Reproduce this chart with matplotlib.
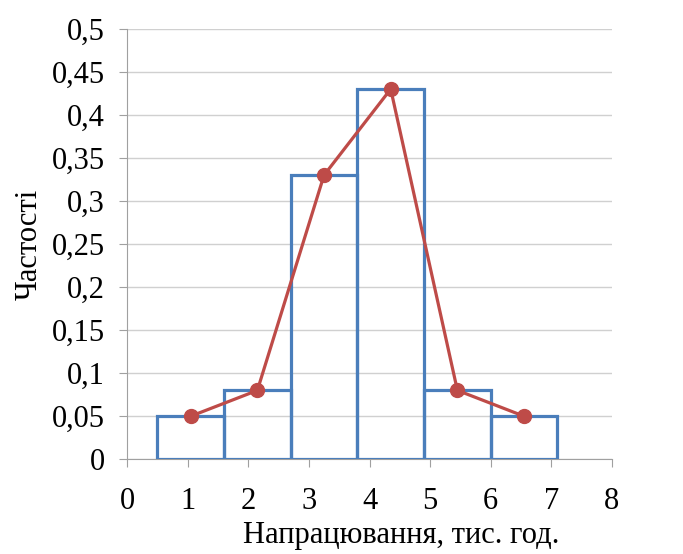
import matplotlib.pyplot as plt

# Histogram bins (thousand hours) and relative frequencies
bin_edges = [0.5, 1.6, 2.7, 3.8, 4.9, 6.0, 7.1]
frequencies = [0.05, 0.08, 0.33, 0.43, 0.08, 0.05]
x_ticks = [0, 1, 2, 3, 4, 5, 6, 7, 8]
y_ticks = [0, 0.05, 0.1, 0.15, 0.2, 0.25, 0.3, 0.35, 0.4, 0.45, 0.5]
y_labels = ['0', '0,05', '0,1', '0,15', '0,2', '0,25', '0,3', '0,35', '0,4', '0,45', '0,5']

plt.rcParams['font.family'] = ['Liberation Serif', 'DejaVu Serif']

fig = plt.figure(figsize=(6.83, 5.54), dpi=100)
ax = fig.add_axes([0.186, 0.171, 0.710, 0.777])

lefts = bin_edges[:-1]
widths = [b - a for a, b in zip(bin_edges[:-1], bin_edges[1:])]
centers = [a + w / 2 for a, w in zip(lefts, widths)]

ax.bar(lefts, frequencies, width=widths, align='edge', fill=False,
       edgecolor='#4A7EBB', linewidth=2.3, zorder=3)
ax.plot(centers, frequencies, color='#BE4B48', linewidth=2.3, marker='o',
        markersize=10, zorder=4)

ax.set_xlim(0, 8)
ax.set_ylim(0, 0.5)
ax.set_xticks(x_ticks)
ax.set_yticks(y_ticks)
ax.set_yticklabels(y_labels)
ax.tick_params(labelsize=22, color='#A0A0A0', length=6)
ax.tick_params(axis='x', direction='out', pad=14)
ax.tick_params(axis='y', pad=10)
ax.grid(axis='y', color='#D0D0D0', linewidth=1)
ax.set_axisbelow(True)

for side in ['top', 'right']:
    ax.spines[side].set_visible(False)
for side in ['left', 'bottom']:
    ax.spines[side].set_color('#A0A0A0')

ax.set_xlabel('Напрацювання, тис. год.', fontsize=22)
ax.xaxis.set_label_coords(0.565, -0.144)
ax.set_ylabel('Частості', fontsize=22, labelpad=6)

fig.savefig('out.png', dpi=100)
